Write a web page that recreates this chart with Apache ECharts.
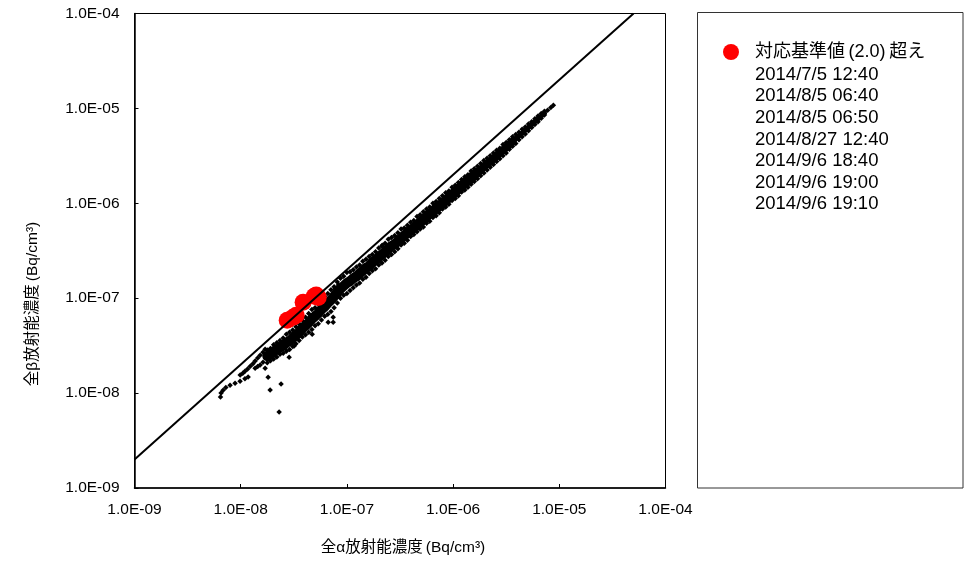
<!DOCTYPE html>
<html><head><meta charset="utf-8">
<style>html,body{margin:0;padding:0;background:#fff}#c{width:971px;height:561px}</style>
<script src="https://cdn.jsdelivr.net/npm/echarts@6/dist/echarts.min.js"></script>
</head><body><div id="c"></div>
<script>
// values, as log10(Bq/cm3)
const alphaLog=[-7.75,-7.72,-7.69,-7.66,-7.63,-7.60,-7.57,-7.54,-7.51,-7.48,-7.45,-7.42,-7.39,-7.36,-7.33,-7.30,-7.27,-7.24,-7.21,-7.18,-7.15,-7.12,-7.09,-7.06,-7.03,
-7.00,-6.97,-6.94,-6.91,-6.88,-6.85,-6.82,-6.79,-6.76,-6.73,-6.70,-6.67,-6.64,-6.61,-6.58,-6.55,-6.52,-6.49,-6.46,-6.43,-6.40,-6.37,-6.34,-6.31,-6.28,-6.25,-6.22,-6.19,-6.16,-6.13,-6.10,-6.07,-6.04,-6.01,
-5.98,-5.95,-5.92,-5.89,-5.86,-5.83,-5.80,-5.77,-5.74,-5.71,-5.68,-5.65,-5.62,-5.59,-5.56,-5.53,-5.50,-5.47,-5.44,-5.41,-5.38,-5.35,-5.32,-5.29,-5.26,-5.23,-5.20,-5.17,-5.14];
const betaUpperLog=[-7.545,-7.53,-7.49,-7.47,-7.445,-7.42,-7.38,-7.36,-7.335,-7.30,-7.27,-7.235,-7.20,-7.16,-7.12,-7.10,-7.06,-7.02,-6.98,-6.95,-6.91,-6.88,-6.83,-6.79,-6.77,
-6.73,-6.72,-6.70,-6.67,-6.65,-6.61,-6.59,-6.56,-6.54,-6.51,-6.47,-6.45,-6.42,-6.38,-6.36,-6.34,-6.31,-6.27,-6.26,-6.23,-6.20,-6.18,-6.14,-6.12,-6.09,-6.06,-6.04,-6.00,-5.98,-5.95,-5.92,-5.89,-5.87,-5.83,
-5.81,-5.78,-5.75,-5.72,-5.70,-5.66,-5.635,-5.61,-5.58,-5.55,-5.525,-5.50,-5.47,-5.44,-5.42,-5.38,-5.36,-5.33,-5.30,-5.275,-5.25,-5.22,-5.195,-5.165,-5.14,-5.11,-5.08,-5.055,-5.03];
const betaMidLog=[-7.61,-7.59,-7.56,-7.54,-7.52,-7.50,-7.47,-7.45,-7.42,-7.39,-7.36,-7.32,-7.29,-7.26,-7.22,-7.19,-7.16,-7.12,-7.09,-7.05,-7.02,-6.98,-6.94,-6.90,-6.87,
-6.84,-6.82,-6.79,-6.77,-6.74,-6.71,-6.68,-6.66,-6.62,-6.60,-6.57,-6.54,-6.51,-6.48,-6.45,-6.43,-6.40,-6.37,-6.34,-6.31,-6.28,-6.26,-6.23,-6.20,-6.17,-6.14,-6.11,-6.09,-6.05,-6.03,-6.00,-5.97,-5.94,-5.91,
-5.88,-5.85,-5.82,-5.79,-5.76,-5.73,-5.70,-5.67,-5.65,-5.61,-5.59,-5.56,-5.53,-5.50,-5.47,-5.44,-5.41,-5.38,-5.35,-5.32,-5.29,-5.26,-5.23,-5.20,-5.17,-5.14,-5.11,-5.08,-5.05];
const betaLowerLog=[-7.68,-7.66,-7.64,-7.62,-7.59,-7.58,-7.56,-7.54,-7.51,-7.48,-7.445,-7.41,-7.385,-7.36,-7.33,-7.29,-7.27,-7.23,-7.19,-7.17,-7.14,-7.10,-7.05,-7.00,-6.97,
-6.95,-6.92,-6.89,-6.86,-6.84,-6.80,-6.78,-6.74,-6.71,-6.69,-6.65,-6.63,-6.60,-6.56,-6.54,-6.51,-6.48,-6.44,-6.42,-6.39,-6.35,-6.33,-6.30,-6.27,-6.25,-6.21,-6.19,-6.15,-6.13,-6.10,-6.06,-6.04,-6.01,-5.97,
-5.95,-5.92,-5.88,-5.86,-5.83,-5.80,-5.77,-5.74,-5.71,-5.68,-5.65,-5.62,-5.59,-5.56,-5.53,-5.50,-5.47,-5.43,-5.40,-5.37,-5.33,-5.30,-5.27,-5.235,-5.20,-5.17,-5.14,-5.105,-5.07];
// low tail, thin upper strand, top-right end and stray points
const extraAlphaLog=[-8.19,-8.185,-8.166,-8.14,-8.10,-8.053,-8.006,-7.96,-7.93,-8.005,-7.98,-7.96,-7.935,-7.91,-7.885,-7.864,-7.84,-7.817,-7.79,-7.77,-7.864,-7.84,-7.817,-7.79,-7.11,-7.08,-5.056,-5.08,-5.11,-7.638,-7.723,-7.62,-7.742,-7.77,-7.544,-7.497,-7.327,-7.176,-7.129,-7.129,-6.667];
const extraBetaLog=[-8.04,-8.00,-7.97,-7.94,-7.916,-7.895,-7.874,-7.85,-7.83,-7.81,-7.79,-7.77,-7.745,-7.716,-7.69,-7.663,-7.63,-7.60,-7.57,-7.537,-7.737,-7.72,-7.705,-7.674,-6.90,-6.86,-4.968,-4.99,-5.02,-8.20,-7.968,-7.905,-7.832,-7.737,-7.621,-7.505,-7.379,-7.253,-7.20,-7.253,-6.442];
const exceedAlpha=[2.74e-8,3.12e-8,3.33e-8,3.87e-8,4.92e-8,5.14e-8,5.37e-8];
const exceedBeta=[5.86e-8,6.31e-8,6.62e-8,9.08e-8,1.05e-7,1.08e-7,1.02e-7];
const refLineAlpha=[1e-9,5e-5];
const refLineBeta=[2e-9,1e-4];
const exceedName='対応基準値\u2009(2.0)\u2009超え';
const exceedTimes=['2014/7/5 12:40','2014/8/5 06:40','2014/8/5 06:50','2014/8/27 12:40','2014/9/6 18:40','2014/9/6 19:00','2014/9/6 19:10'];
const xTitle='全α放射能濃度\u2009(Bq/cm³)';
const yTitle='全β放射能濃度\u2009(Bq/cm³)';

const FONT="'Liberation Sans','Noto Sans CJK JP',sans-serif";
const cloud=[],coreWide=[],coreMid=[],coreNarrow=[];
alphaLog.forEach((a,i)=>{
  [betaUpperLog,betaMidLog,betaLowerLog].forEach(t=>cloud.push([Math.pow(10,a),Math.pow(10,t[i])]));
  const p=[Math.pow(10,a),Math.pow(10,betaMidLog[i])];
  if(a<=-5.8) coreWide.push(p);
  if(a>=-5.83&&a<=-5.44) coreMid.push(p);
  if(a>=-5.47) coreNarrow.push(p);
});
extraAlphaLog.forEach((a,i)=>cloud.push([Math.pow(10,a),Math.pow(10,extraBetaLog[i])]));
const fmt=v=>{const e=Math.round(Math.log10(v));const s=Math.abs(e)<10?'0'+Math.abs(e):''+Math.abs(e);return '1.0E'+(e<0?'-':'+')+s;};
const axis=m=>({type:'log',logBase:10,min:1e-9,max:1e-4,
  axisLine:{show:true,lineStyle:{color:'#000',width:1.5},onZero:false},
  axisTick:{show:true,inside:true,length:4,lineStyle:{color:'#000',width:1}},
  minorTick:{show:false},splitLine:{show:false},minorSplitLine:{show:false},
  axisLabel:{color:'#000',fontFamily:FONT,fontSize:15.5,margin:m,formatter:fmt,hideOverlap:false,showMinLabel:true,showMaxLabel:true}});
const chart=echarts.init(document.getElementById('c'),null,{renderer:'canvas'});
const core=(name,data,w)=>({name,type:'line',symbol:'none',silent:true,z:2,data,lineStyle:{color:'#000',width:w,cap:'round',join:'round',opacity:1},itemStyle:{color:'#000'}});
chart.setOption({
  animation:false,backgroundColor:'#fff',
  grid:{left:134.5,top:13.5,width:531,height:474.5,show:true,borderColor:'#000',borderWidth:1,backgroundColor:'transparent'},
  xAxis:axis(14),yAxis:axis(15),
  legend:{show:true,left:718,top:38,itemWidth:16,itemHeight:16,itemGap:6,selectedMode:false,
    data:[{name:exceedName,icon:'circle'}],
    textStyle:{color:'#000',fontFamily:FONT,fontSize:18,padding:[3,0,0,11]}},
  graphic:[
    {type:'rect',z:-1,shape:{x:697.5,y:12.5,width:265.5,height:475.5},style:{fill:'#fff',stroke:'#333',lineWidth:1}},
    {type:'text',left:755,top:64,style:{text:exceedTimes.join('\n'),fill:'#000',font:'18.5px '+FONT,lineHeight:21.6}},
    {type:'text',x:403,y:548,style:{text:xTitle,fill:'#000',font:'15.5px '+FONT,align:'center',verticalAlign:'middle'}},
    {type:'text',x:33,y:304,rotation:Math.PI/2,style:{text:yTitle,fill:'#000',font:'15.5px '+FONT,align:'center',verticalAlign:'middle'}}
  ],
  series:[
    core('coreWide',coreWide,10),
    core('coreMid',coreMid,8),
    core('coreNarrow',coreNarrow,5),
    {name:'all',type:'scatter',symbol:'diamond',symbolSize:5.5,data:cloud,itemStyle:{color:'#000',opacity:1},z:2,silent:true},
    {name:exceedName,type:'scatter',symbol:'circle',symbolSize:17,itemStyle:{color:'#ff0000',opacity:1},z:3,silent:true,
      data:exceedAlpha.map((a,i)=>[a,exceedBeta[i]])},
    {name:'ref',type:'line',symbol:'none',silent:true,z:4,lineStyle:{color:'#000',width:2},
      data:refLineAlpha.map((a,i)=>[a,refLineBeta[i]])}
  ]
});
</script></body></html>
